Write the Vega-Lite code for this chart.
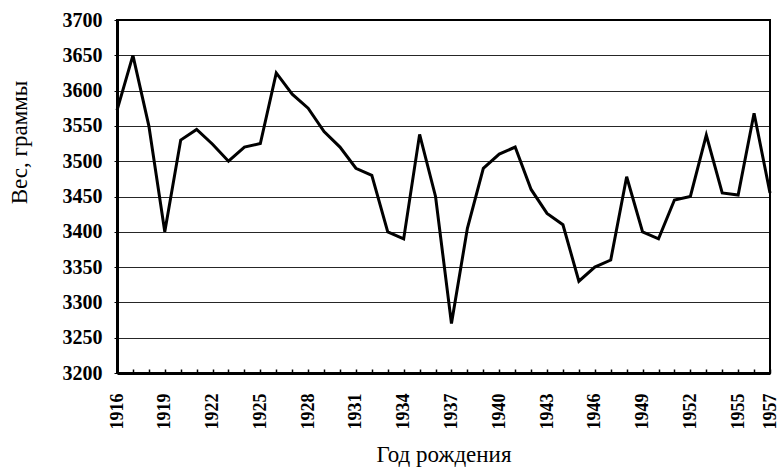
{
  "$schema": "https://vega.github.io/schema/vega-lite/v6.json",
  "width": 653,
  "height": 353,
  "autosize": {"type": "none"},
  "padding": {"left": 117, "top": 20, "right": 10, "bottom": 96},
  "background": "white",
  "config": {
    "font": "Liberation Serif",
    "view": {"stroke": "black", "strokeWidth": 2},
    "axis": {"labelColor": "black", "titleColor": "black", "domainColor": "black", "tickColor": "black"}
  },
  "data": {
    "values": [
      {"year": 1916, "weight": 3572},
      {"year": 1917, "weight": 3650},
      {"year": 1918, "weight": 3550},
      {"year": 1919, "weight": 3400},
      {"year": 1920, "weight": 3530},
      {"year": 1921, "weight": 3545},
      {"year": 1922, "weight": 3524},
      {"year": 1923, "weight": 3500},
      {"year": 1924, "weight": 3520},
      {"year": 1925, "weight": 3525},
      {"year": 1926, "weight": 3625},
      {"year": 1927, "weight": 3595},
      {"year": 1928, "weight": 3575},
      {"year": 1929, "weight": 3542},
      {"year": 1930, "weight": 3520},
      {"year": 1931, "weight": 3490},
      {"year": 1932, "weight": 3480},
      {"year": 1933, "weight": 3400},
      {"year": 1934, "weight": 3390},
      {"year": 1935, "weight": 3538},
      {"year": 1936, "weight": 3450},
      {"year": 1937, "weight": 3270},
      {"year": 1938, "weight": 3405},
      {"year": 1939, "weight": 3490},
      {"year": 1940, "weight": 3510},
      {"year": 1941, "weight": 3520},
      {"year": 1942, "weight": 3460},
      {"year": 1943, "weight": 3426},
      {"year": 1944, "weight": 3410},
      {"year": 1945, "weight": 3330},
      {"year": 1946, "weight": 3350},
      {"year": 1947, "weight": 3360},
      {"year": 1948, "weight": 3478},
      {"year": 1949, "weight": 3400},
      {"year": 1950, "weight": 3390},
      {"year": 1951, "weight": 3445},
      {"year": 1952, "weight": 3450},
      {"year": 1953, "weight": 3537},
      {"year": 1954, "weight": 3455},
      {"year": 1955, "weight": 3452},
      {"year": 1956, "weight": 3568},
      {"year": 1957, "weight": 3455}
    ]
  },
  "mark": {"type": "line", "color": "black", "strokeWidth": 3, "strokeJoin": "miter"},
  "encoding": {
    "x": {
      "field": "year",
      "type": "quantitative",
      "scale": {"domain": [1916, 1957], "nice": false, "zero": false},
      "axis": {
        "title": "Год рождения",
        "titleFontSize": 23,
        "titleFontWeight": "normal",
        "titlePadding": 14,
        "values": [1916,1917,1918,1919,1920,1921,1922,1923,1924,1925,1926,1927,1928,1929,1930,1931,1932,1933,1934,1935,1936,1937,1938,1939,1940,1941,1942,1943,1944,1945,1946,1947,1948,1949,1950,1951,1952,1953,1954,1955,1956,1957],
        "labelExpr": "((datum.value - 1916) % 3 == 0 || datum.value == 1957) ? datum.value : ''",
        "format": "d",
        "labelAngle": -90,
        "labelAlign": "right",
        "labelBaseline": "middle",
        "labelFontSize": 18,
        "labelFontWeight": "bold",
        "labelOverlap": false,
        "labelBound": false,
        "labelFlush": false,
        "labelPadding": 24,
        "tickSize": -4,
        "tickWidth": 1.5,
        "domainWidth": 3,
        "grid": false
      }
    },
    "y": {
      "field": "weight",
      "type": "quantitative",
      "scale": {"domain": [3200, 3700], "nice": false, "zero": false},
      "axis": {
        "title": "Вес, граммы",
        "titleFontSize": 23,
        "titleFontWeight": "normal",
        "titleX": -86,
        "titleY": 122,
        "values": [3200,3250,3300,3350,3400,3450,3500,3550,3600,3650,3700],
        "format": "d",
        "labelFontSize": 20,
        "labelFontWeight": "bold",
        "labelPadding": 12,
        "tickSize": 3,
        "domainWidth": 3,
        "grid": true,
        "gridColor": "black",
        "gridWidth": 1,
        "gridOpacity": 0.85
      }
    }
  }
}
